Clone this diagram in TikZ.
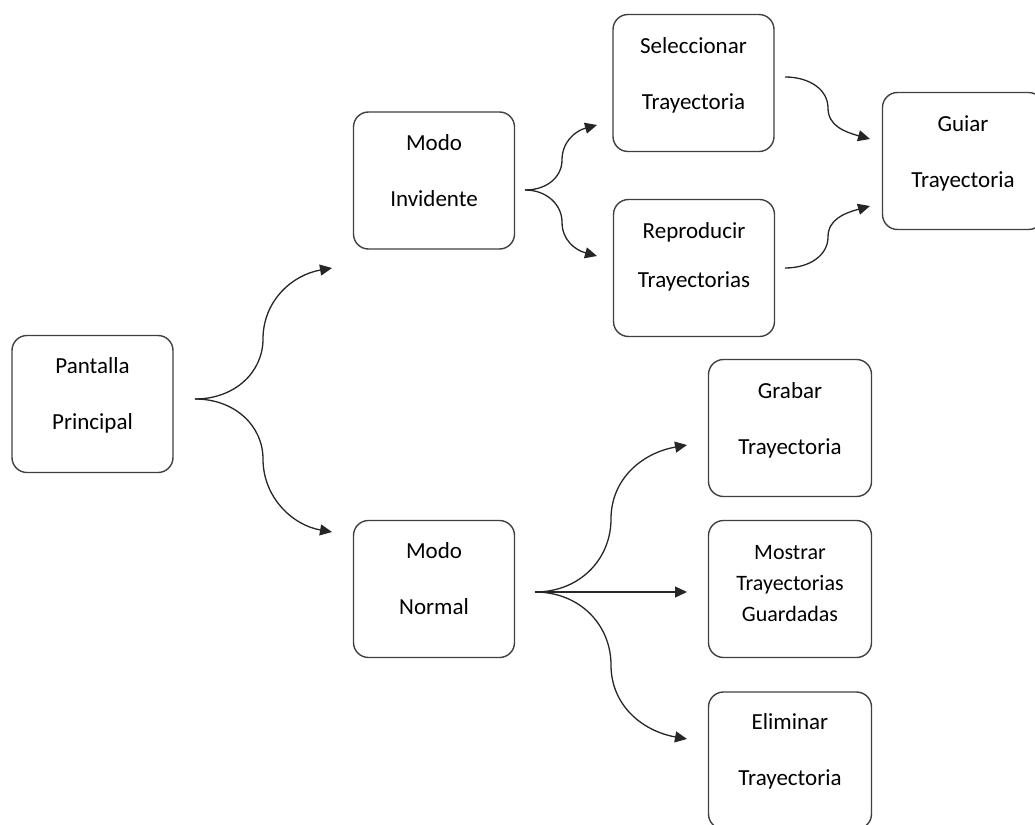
\documentclass[tikz,border=0pt]{standalone}
\usepackage{fontspec}
\setmainfont{Carlito}
\usetikzlibrary{arrows.meta}
\newcommand{\myph}{\vphantom{lp}}
\begin{document}
\begin{tikzpicture}[x=1pt,y=-1pt,
  box/.style={draw=black!75, line width=1.4pt, rounded corners=15pt,
    minimum width=161pt, minimum height=137pt, inner sep=0pt},
  lbl/.style={align=center, font=\fontsize{23}{56}\selectfont, inner sep=0pt},
  conn/.style={draw=black!85, line width=1.3pt, -{Triangle[length=12pt,width=11pt]}}]
\useasboundingbox (0,0) rectangle (1035,824);
\clip (0,0) rectangle (1035,824);

% boxes
\node[box] (pant) at (92.5,404) {};
\node[box] (inv) at (434,180.5) {};
\node[box] (nor) at (434,589) {};
\node[box] (sel) at (693.5,83) {};
\node[box] (rep) at (694,268) {};
\node[box] (gui) at (963,161) {};
\node[box, minimum width=163pt] (gra) at (790,428) {};
\node[box, minimum width=163pt] (mos) at (790,589) {};
\node[box, minimum width=163pt] (eli) at (790,760.5) {};

% labels
\node[lbl] (pantT) at (92.5,395) {\myph Pantalla\\Principal\myph};
\node[lbl] (invT) at (434,172) {\myph Modo\\Invidente\myph};
\node[lbl] (norT) at (434,580.5) {\myph Modo\\Normal\myph};
\node[lbl] (selT) at (693.5,75) {\myph Seleccionar\\Trayectoria\myph};
\node[lbl, font=\fontsize{23}{49}\selectfont] (repT) at (694,257) {\myph Reproducir\\Trayectorias\myph};
\node[lbl] (guiT) at (963,153.5) {\myph Guiar\\Trayectoria\myph};
\node[lbl] (graT) at (790,420) {\myph Grabar\\Trayectoria\myph};
\node[lbl, font=\fontsize{22}{31}\selectfont] (mosT) at (790,584.5) {\myph Mostrar\\Trayectorias\\Guardadas\myph};
\node[lbl] (eliT) at (790,751) {\myph Eliminar\\Trayectoria\myph};

% connector coordinates
\coordinate (fA) at (195,399);
\coordinate (mAu) at (263,339);
\coordinate (tAu) at (332,268);
\coordinate (mAd) at (263,459);
\coordinate (tAd) at (332,532);

\coordinate (fB) at (525,190);
\coordinate (mBu) at (562,160);
\coordinate (tBu) at (597,125);
\coordinate (mBd) at (562,222);
\coordinate (tBd) at (597,256);

\coordinate (sS) at (785,77);
\coordinate (mC1) at (828,108);
\coordinate (tC1) at (870,139);
\coordinate (sR) at (785,268);
\coordinate (mC2) at (828,237);
\coordinate (tC2) at (870,206);

\coordinate (fD) at (535,592);
\coordinate (mDu) at (611,519);
\coordinate (tDu) at (687,445);
\coordinate (mDd) at (611,665);
\coordinate (tDd) at (687,739);
\coordinate (tDm) at (687,592);

% connectors
\draw[conn] (fA) .. controls +(40,0) and +(0,33) .. (mAu) .. controls +(0,-38) and +(-40,7) .. (tAu);
\draw[conn] (fA) .. controls +(40,0) and +(0,-33) .. (mAd) .. controls +(0,38) and +(-40,-7) .. (tAd);

\draw[conn] (fB) .. controls +(22,0) and +(0,17) .. (mBu) .. controls +(0,-18) and +(-22,6) .. (tBu);
\draw[conn] (fB) .. controls +(22,0) and +(0,-17) .. (mBd) .. controls +(0,18) and +(-22,-6) .. (tBd);

\draw[conn] (sS) .. controls +(25,0) and +(0,-18) .. (mC1) .. controls +(0,18) and +(-25,-7) .. (tC1);
\draw[conn] (sR) .. controls +(25,0) and +(0,18) .. (mC2) .. controls +(0,-18) and +(-25,7) .. (tC2);

\draw[conn] (fD) .. controls +(45,0) and +(0,40) .. (mDu) .. controls +(0,-40) and +(-45,8) .. (tDu);
\draw[conn] (fD) .. controls +(45,0) and +(0,-40) .. (mDd) .. controls +(0,40) and +(-45,-8) .. (tDd);
\draw[conn] (fD) -- (tDm);
\end{tikzpicture}
\end{document}
